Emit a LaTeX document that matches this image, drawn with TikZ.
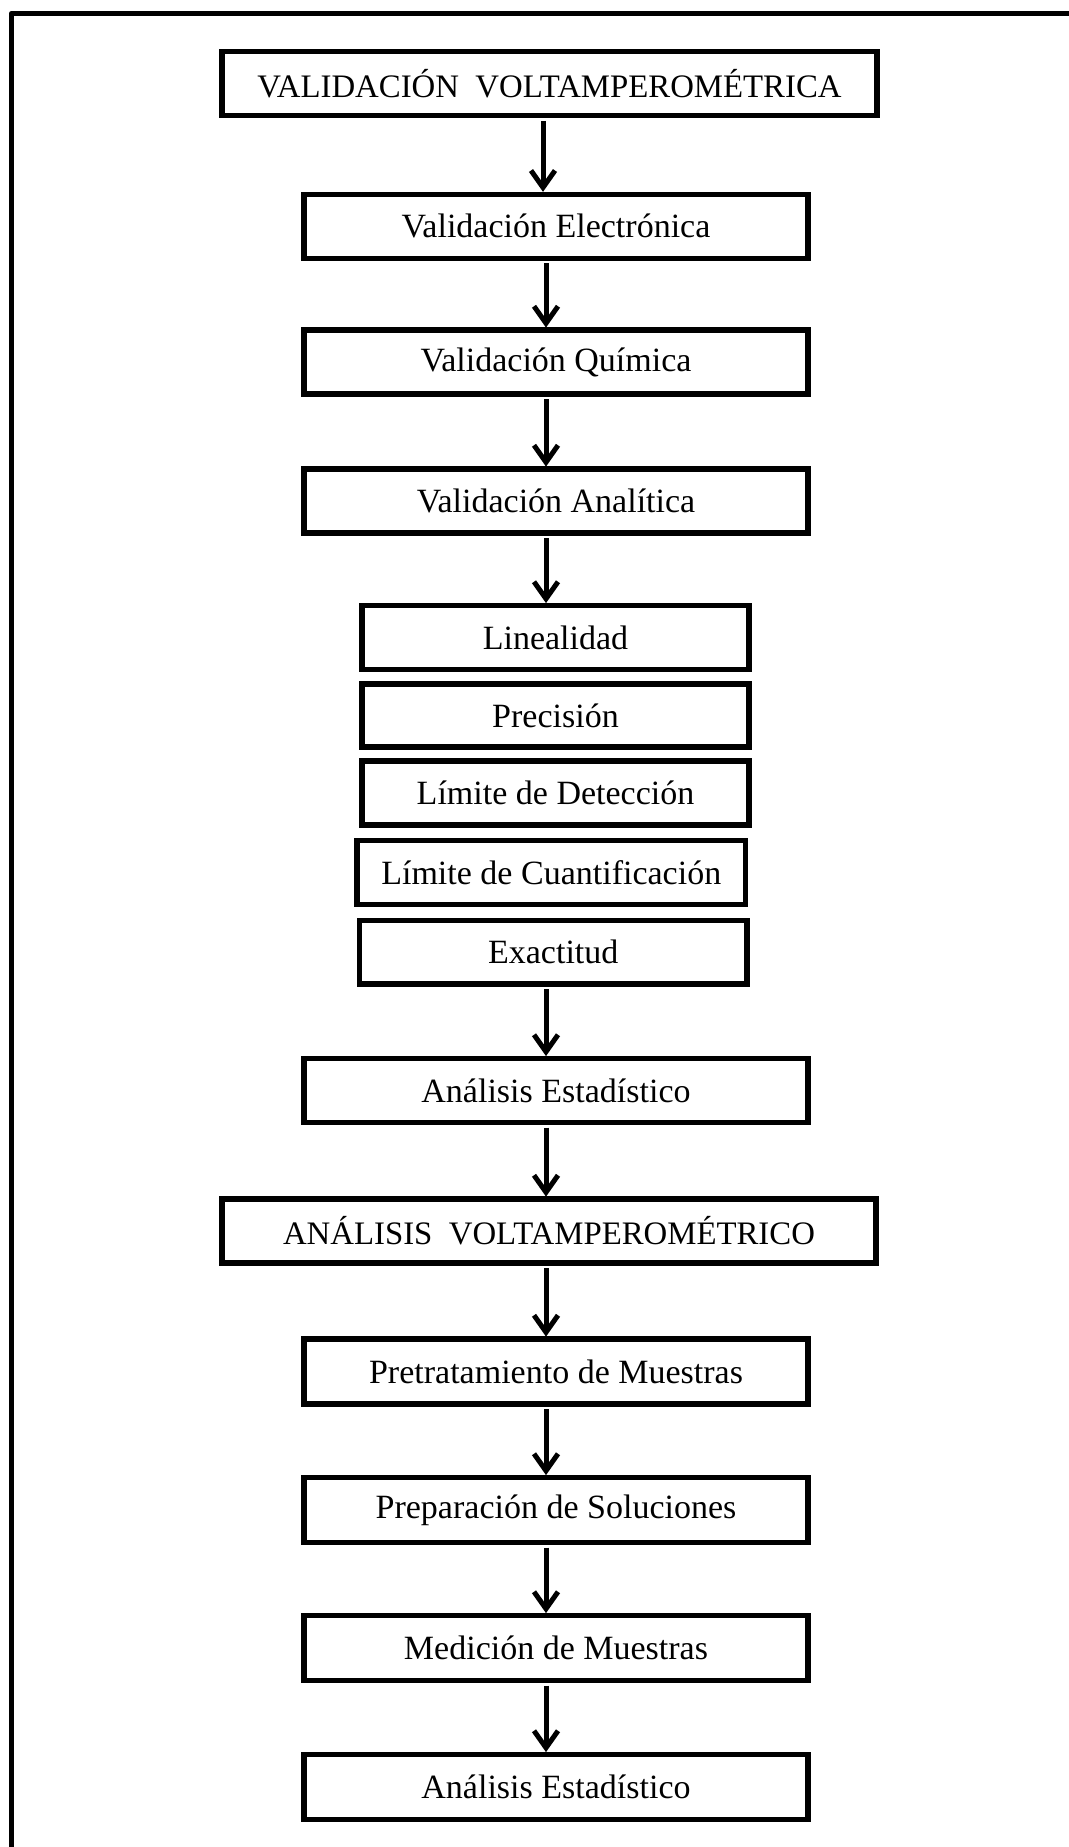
\documentclass[tikz,border=0pt]{standalone}
\usepackage{fontspec}
\setmainfont{Liberation Serif}
\usetikzlibrary{arrows.meta}
\begin{document}
\begin{tikzpicture}[x=0.5pt,y=-0.5pt,
  box/.style={draw=black, line width=2.6pt, fill=white, rectangle, inner sep=0pt, outer sep=0pt,
    minimum height=32pt, font=\fontsize{17}{20}\selectfont},
  wide/.style={box, minimum width=252pt},
  narrow/.style={box, minimum width=193.5pt},
  head/.style={box, minimum width=327.5pt, font=\fontsize{16.4}{19}\selectfont},
  arr/.style={line width=2.5pt, -{Straight Barb[length=8.5pt,width=12pt,line width=2.5pt]},
    shorten <=2.5pt, shorten >=1.2pt},
  frame/.style={line width=2.6pt, line join=round}
]
\useasboundingbox (0,0) rectangle (1069,1847);
\fill[white] (0,0) rectangle (1069,1847);
% outer frame (cropped)
\draw[frame] (11.5,1850) -- (11.5,13.5) -- (1072,13.5);

\coordinate (ax) at (546,0);
\coordinate (axt) at (543,0);

\node[head] (v1) at (549.5,83.75) {VALIDACIÓN\ \ VOLTAMPEROMÉTRICA};
\node[wide] (elec) at (556,226.25) {Validación Electrónica};
\node[wide] (quim) at (556,362) {Validación Química};
\node[wide] (anal) at (556,501) {Validación Analítica};
\node[narrow] (lin) at (555.5,637.5) {Linealidad};
\node[narrow, minimum height=31.5pt] (prec) at (555.5,715.5) {Precisión};
\node[narrow] (det) at (555.5,793) {Límite de Detección};
\node[box, minimum width=194.25pt] (cuan) at (551.25,872.5) {Límite de Cuantificación};
\node[box, minimum width=193.75pt, minimum height=31.75pt] (exac) at (553.25,952.25) {Exactitud};
\node[wide] (ae1) at (556,1090.5) {Análisis Estadístico};
\node[head, minimum width=327pt] (av) at (549,1231) {ANÁLISIS\ \ VOLTAMPEROMÉTRICO};
\node[wide, minimum height=32.5pt] (pret) at (556,1371.5) {Pretratamiento de Muestras};
\node[wide, minimum height=32.5pt] (prep) at (556,1510) {Preparación de Soluciones};
\node[wide, minimum height=32.5pt] (med) at (556,1648) {Medición de Muestras};
\node[wide, minimum height=32.5pt] (ae2) at (556,1787) {Análisis Estadístico};

\draw[arr] (v1.south -| axt) -- (elec.north -| axt);
\draw[arr] (elec.south -| ax) -- (quim.north -| ax);
\draw[arr] (quim.south -| ax) -- (anal.north -| ax);
\draw[arr] (anal.south -| ax) -- (lin.north -| ax);
\draw[arr] (exac.south -| ax) -- (ae1.north -| ax);
\draw[arr] (ae1.south -| ax) -- (av.north -| ax);
\draw[arr] (av.south -| ax) -- (pret.north -| ax);
\draw[arr] (pret.south -| ax) -- (prep.north -| ax);
\draw[arr] (prep.south -| ax) -- (med.north -| ax);
\draw[arr] (med.south -| ax) -- (ae2.north -| ax);
\end{tikzpicture}
\end{document}
